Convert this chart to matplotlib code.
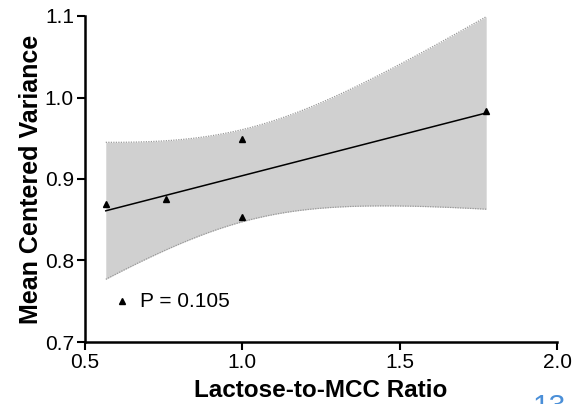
import numpy as np
import matplotlib
matplotlib.use("Agg")
import matplotlib.pyplot as plt

plt.rcParams['font.family'] = ['Liberation Sans', 'DejaVu Sans']

# Data
ratio = [0.566, 0.756, 1.0, 1.0, 1.775]
variance = [0.869, 0.875, 0.949, 0.853, 0.984]
p_label = "P = 0.105"
x_ticks = [0.5, 1.0, 1.5, 2.0]
y_ticks = [0.7, 0.8, 0.9, 1.0, 1.1]
page_number = "13"

x = np.array(ratio)
y = np.array(variance)

# Linear regression with 95% confidence band
n = len(x)
slope, intercept = np.polyfit(x, y, 1)
resid = y - (slope * x + intercept)
s = np.sqrt(np.sum(resid ** 2) / (n - 2))
t_crit = 3.182446  # t(0.975, df=3)
sxx = np.sum((x - x.mean()) ** 2)
xs = np.linspace(x.min(), x.max(), 200)
ys = slope * xs + intercept
se = s * np.sqrt(1.0 / n + (xs - x.mean()) ** 2 / sxx)
lo = ys - t_crit * se
hi = ys + t_crit * se

fig = plt.figure(figsize=(5.76, 4.04), dpi=100)
ax = fig.add_axes([85 / 576, 1 - 342 / 404, (557 - 85) / 576, (342 - 16) / 404])

ax.fill_between(xs, lo, hi, color='#d0d0d0', linewidth=0, zorder=1)
ax.plot(xs, lo, color='#999999', linestyle=(0, (1, 1)), linewidth=0.9, zorder=2)
ax.plot(xs, hi, color='#999999', linestyle=(0, (1, 1)), linewidth=0.9, zorder=2)
ax.plot(xs, ys, color='black', linewidth=1.1, zorder=3)
ax.plot(x, y, linestyle='none', marker='^', color='black', markersize=5, zorder=4)

# legend-like annotation
ax.plot([0.6176], [0.750], linestyle='none', marker='^', color='black', markersize=5)
ax.text(0.675, 0.750, p_label, fontsize=15, va='center', ha='left')

ax.set_xlim(0.5, 2.0)
ax.set_ylim(0.7, 1.1)
ax.set_xticks(x_ticks)
ax.set_yticks(y_ticks)
ax.set_xticklabels([f"{v:.1f}" for v in x_ticks])
ax.set_yticklabels([f"{v:.1f}" for v in y_ticks])
ax.tick_params(axis='both', direction='out', length=6, width=1.5, labelsize=15, pad=2)

for side in ['top', 'right']:
    ax.spines[side].set_visible(False)
for side in ['left', 'bottom']:
    ax.spines[side].set_linewidth(1.8)

ax.set_xlabel("Lactose-to-MCC Ratio", fontsize=17.5, fontweight='bold', labelpad=5)
ax.set_ylabel("Mean Centered Variance", fontsize=18, fontweight='bold', labelpad=1.5)

fig.text(533 / 576, 1 - 393 / 404, page_number, color='#4a8fd8', fontsize=21.5,
         ha='left', va='top')

fig.savefig("out.png", dpi=100)
